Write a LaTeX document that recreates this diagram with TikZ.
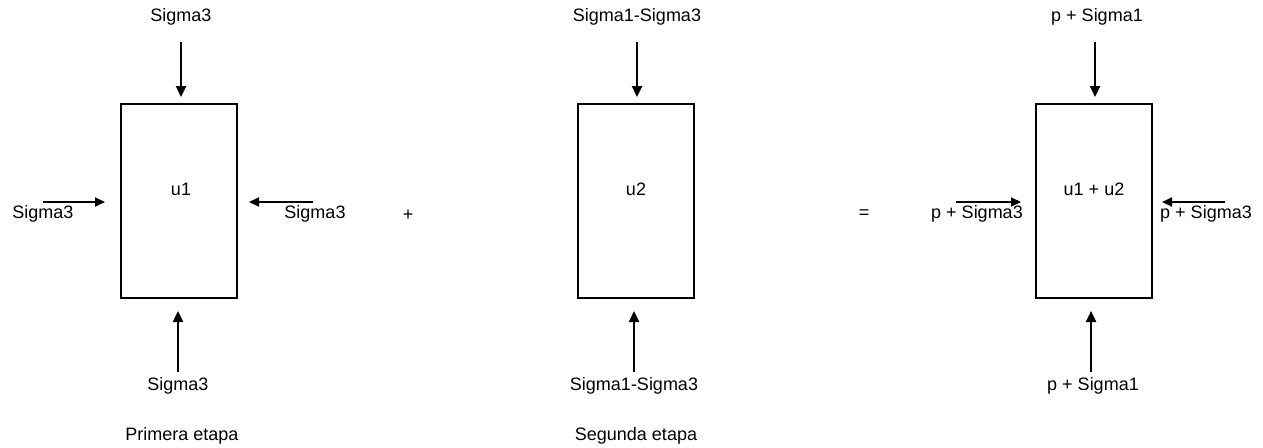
\documentclass[tikz,border=0pt]{standalone}
\usepackage{fontspec}
\setmainfont{Liberation Sans}
\usetikzlibrary{arrows.meta}
\begin{document}
\begin{tikzpicture}[x=1pt,y=-1pt,
  lbl/.style={font=\fontsize{18}{20}\selectfont, inner sep=0pt, anchor=center},
  boxst/.style={draw, line width=1.2pt, minimum width=116pt, minimum height=194pt, inner sep=0pt},
  force/.style={line width=2.4pt, -{Triangle[length=11pt,width=10pt]}},
  hforce/.style={line width=1.8pt, -{Triangle[length=10pt,width=9pt]}}]
\useasboundingbox (0,0) rectangle (1263,447);
% boxes
\node[boxst] (b1) at (179,201) {};
\node[boxst] (b2) at (636,201) {};
\node[boxst] (b3) at (1094,201) {};
% inner labels
\node[lbl] (u1) at (181,189) {u1};
\node[lbl] (u2) at (636,189) {u2};
\node[lbl] (u3) at (1094,189) {u1 + u2};
% operators
\node[lbl] (plus) at (408,215) {+};
\node[lbl] (eq) at (864,214) {=};
% stage labels
\node[lbl] (s1) at (182,436) {Primera etapa};
\node[lbl] (s2) at (636,436) {Segunda etapa};
% box 1 forces
\node[lbl] (t1) at (181,17) {Sigma3};
\coordinate (t1a) at (181,42);
\draw[force] (t1a) -- (181,97);
\node[lbl] (d1) at (178,386) {Sigma3};
\coordinate (d1a) at (178,372);
\draw[force] (d1a) -- (178,311);
\node[lbl] (l1) at (43,214) {Sigma3};
\coordinate (l1a) at (43,202);
\draw[hforce] (l1a) -- (105,202);
\node[lbl] (r1) at (315,214) {Sigma3};
\coordinate (r1a) at (313,202);
\draw[hforce] (r1a) -- (249,202);
% box 2 forces
\node[lbl] (t2) at (637,17) {Sigma1-Sigma3};
\coordinate (t2a) at (637,42);
\draw[force] (t2a) -- (637,97);
\node[lbl] (d2) at (634,386) {Sigma1-Sigma3};
\coordinate (d2a) at (634,372);
\draw[force] (d2a) -- (634,311);
% box 3 forces
\node[lbl] (t3) at (1097,17) {p + Sigma1};
\coordinate (t3a) at (1095,42);
\draw[force] (t3a) -- (1095,97);
\node[lbl] (d3) at (1093,386) {p + Sigma1};
\coordinate (d3a) at (1091,372);
\draw[force] (d3a) -- (1091,311);
\node[lbl] (l3) at (977,214) {p + Sigma3};
\coordinate (l3a) at (956,202);
\draw[hforce] (l3a) -- (1021,202);
\node[lbl] (r3) at (1206,214) {p + Sigma3};
\coordinate (r3a) at (1225,202);
\draw[hforce] (r3a) -- (1162,202);
\end{tikzpicture}
\end{document}
